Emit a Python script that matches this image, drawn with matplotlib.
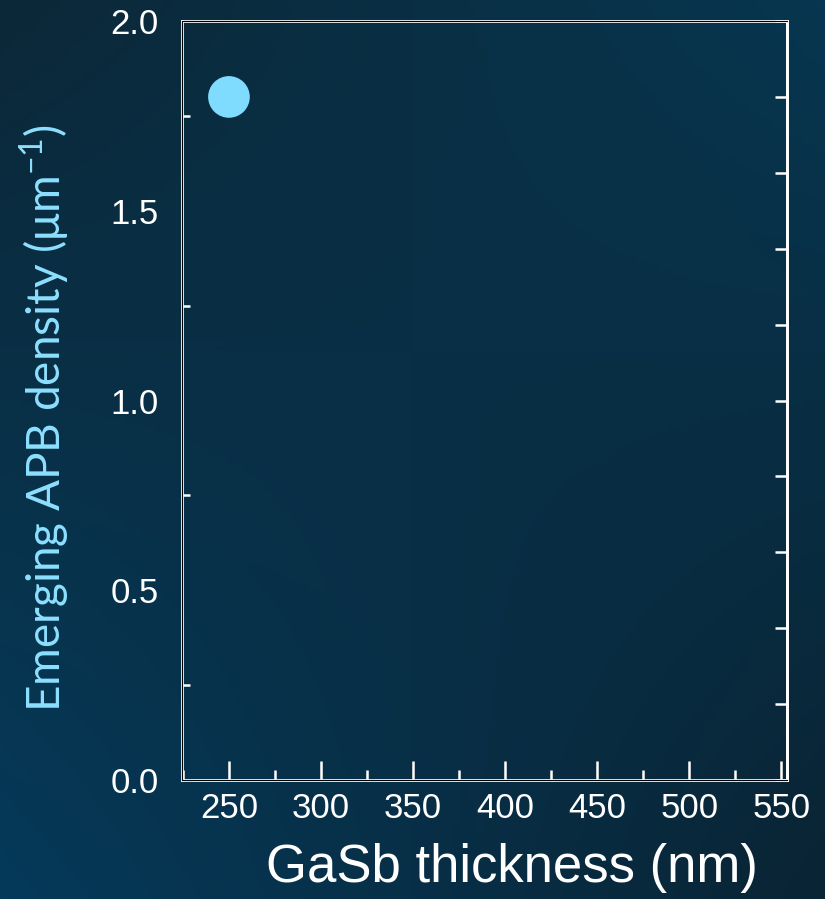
import numpy as np
import matplotlib.pyplot as plt
from matplotlib.ticker import MultipleLocator

# Data
thickness = [250]          # GaSb thickness (nm)
apb_density = [1.8]        # Emerging APB density (um^-1)

x_ticks = [250, 300, 350, 400, 450, 500, 550]
y_ticks = [0.0, 0.5, 1.0, 1.5, 2.0]

fig = plt.figure(figsize=(8.25, 8.99), dpi=100)

# dark blue slide background (corner colour blend)
bg = fig.add_axes([0, 0, 1, 1], zorder=-10)
tl = np.array([12, 40, 56]) / 255
tr = np.array([7, 54, 80]) / 255
bl = np.array([5, 58, 90]) / 255
br = np.array([10, 36, 52]) / 255
u = np.linspace(0, 1, 200)[None, :, None]
v = np.linspace(0, 1, 200)[:, None, None]
grad = (1 - v) * ((1 - u) * tl + u * tr) + v * ((1 - u) * bl + u * br)
bg.imshow(grad, aspect='auto', extent=[0, 1, 0, 1])
bg.axis('off')

ax = fig.add_axes([0.2206, 0.1324, 0.7333, 0.8442])
ax.patch.set_alpha(0)

ax.scatter(thickness, apb_density, s=900, color='#80dcff', zorder=3, edgecolors='none')

ax.set_xlim(224.5, 553)
ax.set_ylim(0, 2.0)
ax.set_xticks(x_ticks)
ax.set_yticks(y_ticks)
ax.xaxis.set_minor_locator(MultipleLocator(25))
ax.yaxis.set_minor_locator(MultipleLocator(0.25))

for s in ax.spines.values():
    s.set_color('white')
    s.set_linewidth(2)

ax.tick_params(axis='x', which='major', direction='in', length=14, width=1.8,
               color='white', labelcolor='white', labelsize=25, pad=9)
ax.tick_params(axis='x', which='minor', direction='in', length=7, width=1.8, color='white')
ax.tick_params(axis='y', which='major', direction='in', length=0,
               labelcolor='white', labelsize=25, pad=17)
ax.tick_params(axis='y', which='minor', direction='in', length=6, width=1.8, color='white')

# right-side ticks every 0.2
rax = ax.twinx()
rax.set_ylim(0, 2.0)
rax.yaxis.set_major_locator(MultipleLocator(0.2))
rax.tick_params(axis='y', direction='in', length=9, width=1.8, color='white', labelright=False)
rax.spines['right'].set_color('white')
rax.spines['right'].set_linewidth(2)

for lab in ax.get_xticklabels() + ax.get_yticklabels():
    lab.set_family('Liberation Sans')

fig.text(512 / 825, 1 - 868 / 899, 'GaSb thickness (nm)', color='white', fontsize=38,
         family='Liberation Sans', ha='center', va='center')
fig.text(45 / 825, 1 - 418 / 899, 'Emerging APB density (μm$^{\\mathregular{-1}}$)',
         color='#8de0ff', fontsize=33, family='Lato', rotation=90,
         ha='center', va='center')

plt.savefig('out.png', dpi=100)
